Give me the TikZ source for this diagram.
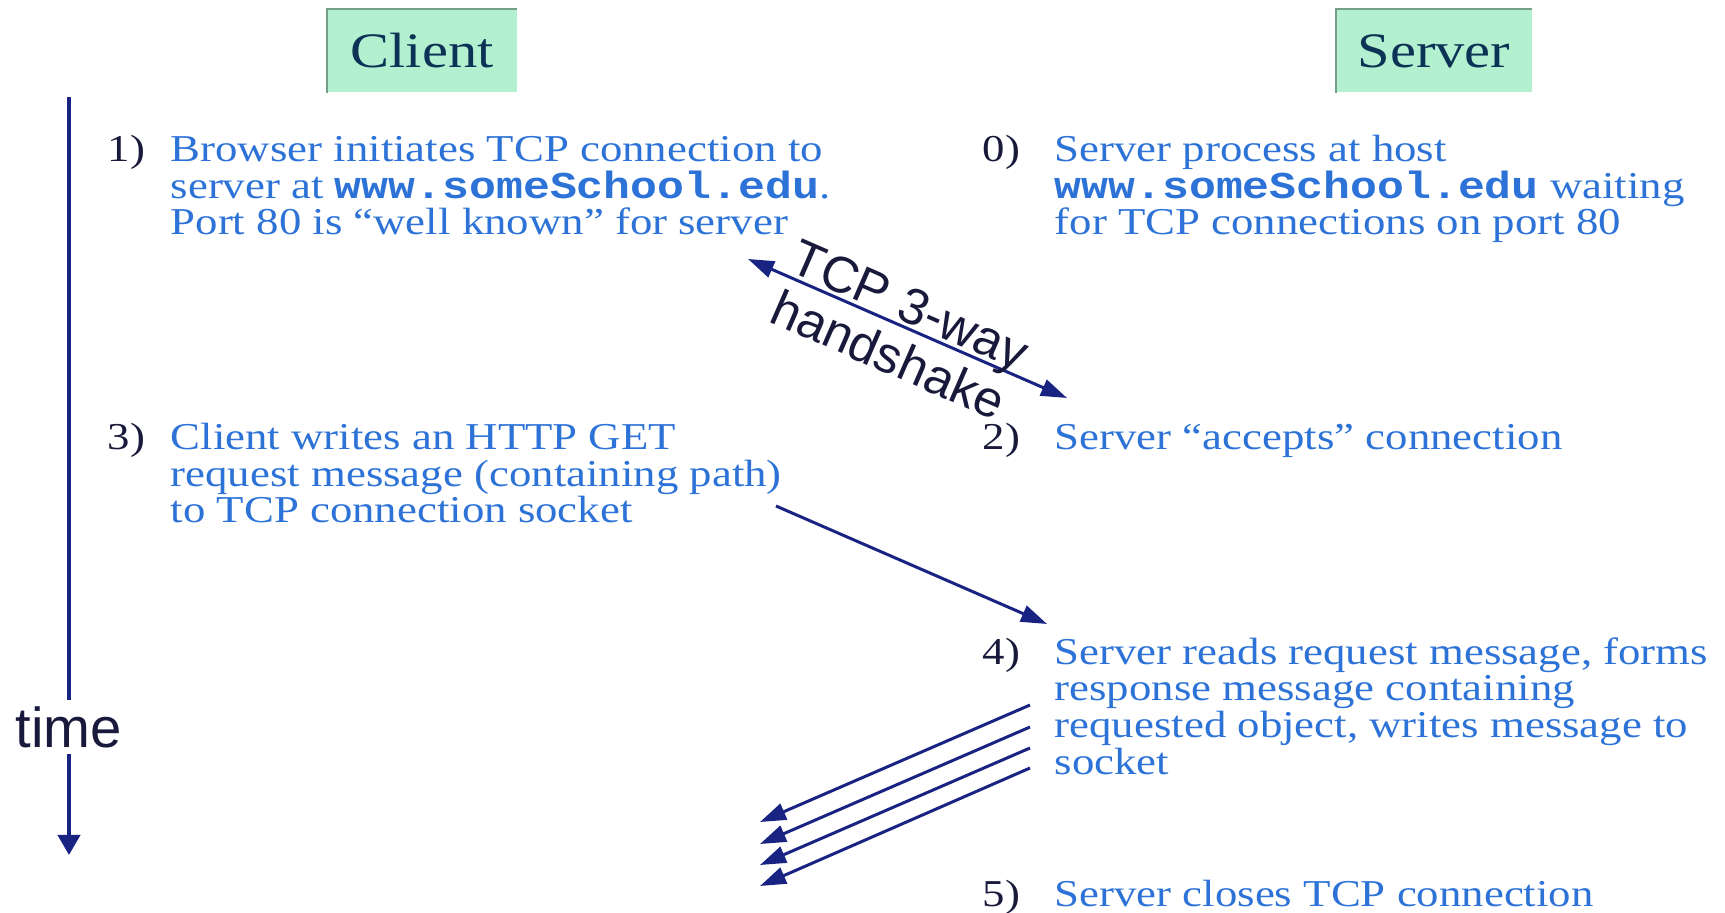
\documentclass[tikz,border=0pt]{standalone}
\usepackage{fontspec}
\usepackage{tikz}
\usetikzlibrary{arrows.meta}

\newfontfamily\bodyfont{Liberation Serif}[FakeStretch=1.18]
\newfontfamily\codefont{Liberation Mono}[FakeStretch=1.18]
\newfontfamily\labelfont{Liberation Sans}

\definecolor{txtblue}{RGB}{45,115,215}
\definecolor{numcol}{RGB}{25,25,60}
\definecolor{arrcol}{RGB}{25,35,130}
\definecolor{headfill}{RGB}{178,240,208}
\definecolor{headline}{RGB}{115,160,135}
\definecolor{headtext}{RGB}{12,50,85}

\newcommand{\hostname}{{\codefont\bfseries www.someSchool.edu}}

\begin{document}
\begin{tikzpicture}[x=0.01cm,y=-0.01cm,
  stepnum/.style={anchor=base west, inner sep=0pt, text=numcol,
    font=\bodyfont\fontsize{10.8}{10.4}\selectfont},
  steptext/.style={anchor=base west, inner sep=0pt, align=left, text=txtblue,
    font=\bodyfont\fontsize{10.8}{10.4}\selectfont},
  header/.style={fill=headfill, minimum height=0.82cm, inner sep=0pt, text=headtext,
    font=\bodyfont\fontsize{14.1}{14}\selectfont},
  msg/.style={draw=arrcol, line width=0.85pt, -{Triangle[length=0.26cm,width=0.17cm]}}]
  \useasboundingbox (0,0) rectangle (1725,913);

  % column headers
  \node[header, minimum width=1.89cm] (client) at (422,51) {Client};
  \node[header, minimum width=1.95cm] (server) at (1434,51) {Server};
  \draw[headline, line width=0.6pt] (client.south west) -- (client.north west) -- (client.north east);
  \draw[headline, line width=0.6pt] (server.south west) -- (server.north west) -- (server.north east);

  % time axis
  \coordinate (ttop) at (69,97);
  \node[inner xsep=0pt, inner ysep=0.06cm, text=numcol, font=\labelfont\fontsize{16}{16}\selectfont] (time) at (69,727) {time};
  \coordinate (tend) at (69,855);
  \draw[arrcol, line width=1.1pt] (ttop) -- (time.north);
  \draw[arrcol, line width=1.1pt, -{Triangle[length=0.2cm,width=0.22cm]}] (time.south) -- (tend);

  % client side (text blocks sit on their last baseline)
  \node[stepnum] (n1) at (107,162) {1)};
  \node[steptext] (t1) at (170,235) {Browser initiates TCP connection to\\
    server at \hostname.\\ Port 80 is “well known” for server};
  \node[stepnum] (n3) at (107,450) {3)};
  \node[steptext] (t3) at (170,523) {Client writes an HTTP GET\\
    request message (containing path)\\ to TCP connection socket};

  % server side
  \node[stepnum] (n0) at (982,162) {0)};
  \node[steptext] (t0) at (1054,235) {Server process at host\\
    \hostname{} waiting\\ for TCP connections on port 80};
  \node[stepnum] (n2) at (982,450) {2)};
  \node[steptext] (t2) at (1054,450) {Server “accepts” connection};
  \node[stepnum] (n4) at (982,664) {4)};
  \node[steptext] (t4) at (1054,774) {Server reads request message, forms\\
    response message containing\\ requested object, writes message to\\ socket};
  \node[stepnum] (n5) at (982,906) {5)};
  \node[steptext] (t5) at (1054,906) {Server closes TCP connection};

  % messages
  \coordinate (hsa) at (748,259);
  \coordinate (hsb) at (1067,398);
  \draw[msg, {Triangle[length=0.26cm,width=0.17cm]}-{Triangle[length=0.26cm,width=0.17cm]}] (hsa) --
    node[sloped, above=-0.07cm, pos=0.48, inner sep=0pt, text=numcol, font=\labelfont\fontsize{14.5}{14.5}\selectfont] (tcp) {TCP 3-way}
    node[sloped, below=0.11cm, pos=0.48, inner sep=0pt, text=numcol, font=\labelfont\fontsize{14.5}{14.5}\selectfont] (hand) {handshake} (hsb);

  \coordinate (reqa) at (776,506);
  \coordinate (reqb) at (1047,624);
  \draw[msg] (reqa) -- (reqb);

  \foreach \i/\ya/\yb in {1/705/822, 2/727/844, 3/748/865, 4/768/886} {
    \coordinate (resa\i) at (1030,\ya);
    \coordinate (resb\i) at (760,\yb);
    \draw[msg] (resa\i) -- (resb\i);
  }
\end{tikzpicture}
\end{document}
